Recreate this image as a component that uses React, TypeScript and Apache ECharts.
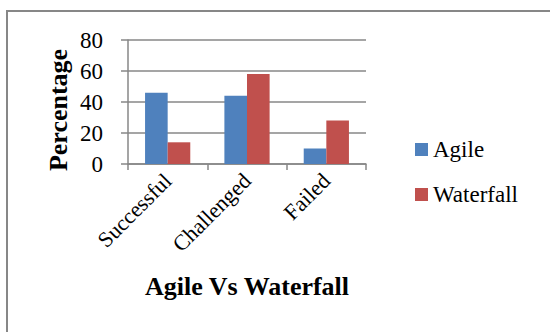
import React, { useEffect, useRef } from "react";
import * as echarts from "echarts";

const categories = ["Successful", "Challenged", "Failed"];
const agile = [46, 44, 10];
const waterfall = [14, 58, 28];
const seriesNames = ["Agile", "Waterfall"];
const chartTitle = "Agile Vs Waterfall";
const yTitle = "Percentage";

const FONT = "Liberation Serif";
const GREY = "#878787";

export default function App() {
  const ref = useRef<HTMLDivElement>(null);
  useEffect(() => {
    const chart = echarts.init(ref.current!, null, { renderer: "svg" });
    chart.setOption({
      animation: false,
      backgroundColor: "#ffffff",
      textStyle: { fontFamily: FONT },
      grid: { left: 128, top: 40, width: 238, height: 124, containLabel: false },
      legend: {
        orient: "vertical",
        left: 410,
        top: 133,
        itemWidth: 13,
        itemHeight: 13,
        itemGap: 22,
        icon: "rect",
        data: seriesNames,
        textStyle: { fontFamily: FONT, fontSize: 23, color: "#000", lineHeight: 23 },
      },
      xAxis: {
        type: "category",
        data: categories,
        axisLine: { lineStyle: { color: GREY, width: 1.5 } },
        axisTick: { show: true, length: 6, alignWithLabel: false, lineStyle: { color: GREY, width: 1.5 } },
        axisLabel: {
          rotate: 45,
          margin: 13,
          fontFamily: FONT,
          fontSize: 22,
          color: "#000",
          interval: 0,
        },
      },
      yAxis: {
        type: "value",
        min: 0,
        max: 80,
        interval: 20,
        axisLine: { show: true, lineStyle: { color: GREY, width: 1.5 } },
        axisTick: { show: true, length: 7, inside: false, lineStyle: { color: GREY, width: 1.5 } },
        splitLine: { show: true, lineStyle: { color: GREY, width: 1.5 } },
        axisLabel: { margin: 25, fontFamily: FONT, fontSize: 23, color: "#000" },
      },
      series: [
        {
          name: seriesNames[0],
          type: "bar",
          data: agile,
          barWidth: "28.5%",
          barGap: "0%",
          itemStyle: { color: "#4F81BD" },
        },
        {
          name: seriesNames[1],
          type: "bar",
          data: waterfall,
          barWidth: "28.5%",
          barGap: "0%",
          itemStyle: { color: "#C0504D" },
        },
      ],
      graphic: [
        {
          type: "rect",
          shape: { x: 7, y: 11, width: 560, height: 340 },
          style: { fill: "none", stroke: GREY, lineWidth: 2 },
          silent: true,
          z: -1,
        },
        {
          type: "text",
          x: 58,
          y: 110,
          rotation: Math.PI / 2,
          style: {
            text: yTitle,
            fontFamily: FONT,
            fontSize: 26,
            fontWeight: "bold",
            fill: "#000",
            textAlign: "center",
            textVerticalAlign: "middle",
          },
        },
        {
          type: "text",
          x: 247,
          y: 286,
          style: {
            text: chartTitle,
            fontFamily: FONT,
            fontSize: 26,
            fontWeight: "bold",
            fill: "#000",
            textAlign: "center",
            textVerticalAlign: "middle",
          },
        },
      ],
    });
    return () => chart.dispose();
  }, []);
  return (
    <div
      ref={ref}
      style={{ position: "absolute", left: 0, top: 0, width: 550, height: 332 }}
    />
  );
}
